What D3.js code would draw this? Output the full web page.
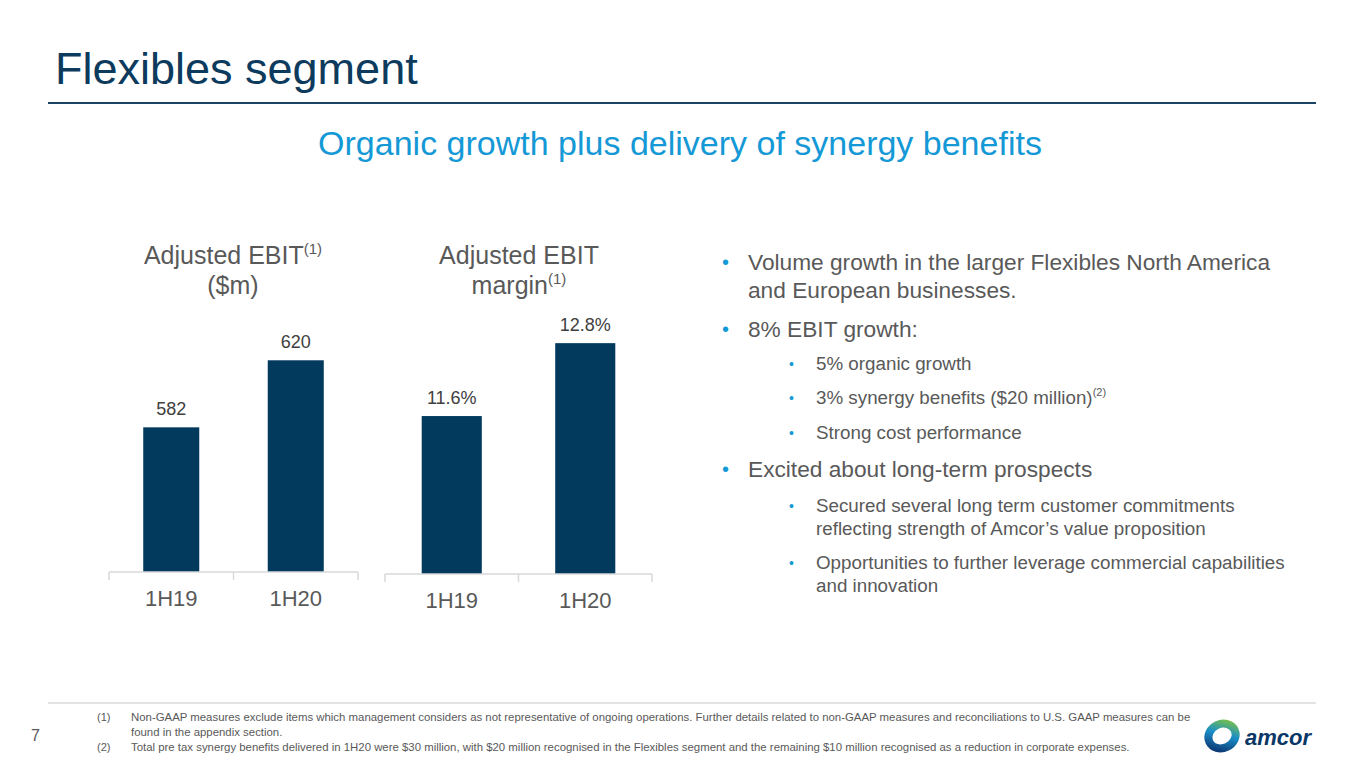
<!DOCTYPE html>
<html>
<head>
<meta charset="utf-8" />
<title>Flexibles segment</title>
<style>
html, body {
    padding: 0px;
    margin: 0px;
    width: 100%;
    height: 100%;
    background: #fff;
}
svg text {
    font-family: Arial, "Liberation Sans", sans-serif;
}
</style>
</head>
<body>
<svg id="slide" width="1365" height="768"></svg>

<script src="https://cdnjs.cloudflare.com/ajax/libs/d3/7.8.5/d3.min.js"></script>
<script>
// data
var categories = ["1H19", "1H20"]
var ebitValues = [582, 620]
var marginValues = [11.6, 12.8]

var bullets = [
    {level: 0, lines: ["Volume growth in the larger Flexibles North America", "and European businesses."]},
    {level: 0, lines: ["8% EBIT growth:"]},
    {level: 1, lines: ["5% organic growth"]},
    {level: 1, lines: ["3% synergy benefits ($20 million)"], sup: "(2)"},
    {level: 1, lines: ["Strong cost performance"]},
    {level: 0, lines: ["Excited about long-term prospects"]},
    {level: 1, lines: ["Secured several long term customer commitments", "reflecting strength of Amcor\u2019s value proposition"]},
    {level: 1, lines: ["Opportunities to further leverage commercial capabilities", "and innovation"]}
]
var bulletY = [270, 337, 370, 404, 439, 477, 512, 569]

var footnotes = [
    ["(1)", ["Non-GAAP measures exclude items which management considers as not representative of ongoing operations.  Further details related to non-GAAP measures and reconciliations to U.S. GAAP measures can be", "found in the appendix section."]],
    ["(2)", ["Total pre tax synergy benefits delivered in 1H20 were $30 million, with $20 million recognised in the Flexibles segment and the remaining $10 million recognised as a reduction in corporate expenses."]]
]

!(function(){
    "use strict"

    var navy = "#0d3b5e", bar = "#023a5e", sky = "#1599d6", grey = "#595959", dark = "#404040"
    var svg = d3.select("#slide")

    // header
    svg.append("text").attr("x", 55).attr("y", 84)
        .attr("font-size", 45).attr("fill", navy).text("Flexibles segment")
    svg.append("line").attr("x1", 48).attr("x2", 1316).attr("y1", 103).attr("y2", 103)
        .attr("stroke", "#1b4464").attr("stroke-width", 2)
    svg.append("text").attr("x", 680).attr("y", 155).attr("text-anchor", "middle")
        .attr("font-size", 34).attr("fill", sky).text("Organic growth plus delivery of synergy benefits")

    // one small bar chart
    function barChart(opt) {
        var x = d3.scaleBand().domain(categories).range(opt.xr)
            .paddingInner(opt.pad).paddingOuter(opt.pad / 2)
        var y = d3.scaleLinear().domain(opt.dom).range(opt.yr)
        var g = svg.append("g")
        var base = opt.yr[0]

        // title, one text per line
        opt.title.forEach(function(line, i) {
            var t = g.append("text").attr("text-anchor", "middle")
                .attr("font-size", 25).attr("fill", grey)
                .attr("x", opt.tx).attr("y", opt.ty[i])
            t.append("tspan").text(line[0])
            if (line[1]) {
                t.append("tspan").attr("font-size", 15).attr("dy", -10).text(line[1])
            }
        })

        g.selectAll("rect.bar").data(opt.values).enter().append("rect")
            .attr("class", "bar")
            .attr("x", function(d, i) { return x(categories[i]) })
            .attr("width", x.bandwidth())
            .attr("y", function(d) { return y(d) })
            .attr("height", function(d) { return base - y(d) })
            .attr("fill", bar)

        g.selectAll("text.val").data(opt.values).enter().append("text")
            .attr("class", "val")
            .attr("x", function(d, i) { return x(categories[i]) + x.bandwidth() / 2 })
            .attr("y", function(d) { return y(d) - 12 })
            .attr("text-anchor", "middle").attr("font-size", 18).attr("fill", dark)
            .text(opt.fmt)

        // axis: labels from d3 axis, separator ticks at band edges
        var ax = g.append("g").attr("transform", "translate(0," + base + ")")
            .call(d3.axisBottom(x).tickSize(0).tickPadding(18))
        ax.select(".domain").remove()
        ax.selectAll("text").attr("font-size", 22).attr("fill", grey)
            .style("font-family", "Arial, 'Liberation Sans', sans-serif")

        var edges = [opt.xr[0]].concat(categories.slice(1).map(function(c) {
            return x(c) - x.step() * x.paddingInner() / 2 })).concat([opt.xr[1]])
        g.append("line").attr("x1", opt.xr[0]).attr("x2", opt.xr[1])
            .attr("y1", base).attr("y2", base).attr("stroke", "#d9d9d9").attr("stroke-width", 1.5)
        g.selectAll("line.tk").data(edges).enter().append("line")
            .attr("class", "tk")
            .attr("x1", function(d) { return d }).attr("x2", function(d) { return d })
            .attr("y1", base).attr("y2", base + 8)
            .attr("stroke", "#d9d9d9").attr("stroke-width", 1.5)
    }

    barChart({
        values: ebitValues, xr: [109, 358], yr: [572, 325], dom: [500, 640], pad: 0.55,
        fmt: function(d) { return d3.format("d")(d) },
        tx: 233, ty: [264, 294], title: [["Adjusted EBIT", "(1)"], ["($m)"]]
    })
    barChart({
        values: marginValues, xr: [385, 652], yr: [574, 331], dom: [9, 13], pad: 0.55,
        fmt: function(d) { return d.toFixed(1) + "%" },
        tx: 519, ty: [264, 294], title: [["Adjusted EBIT"], ["margin", "(1)"]]
    })

    // bullets
    var bg = svg.append("g")
    bullets.forEach(function(b, i) {
        var fs = b.level ? 18.8 : 22.7
        var bx = b.level ? 789 : 722
        var tx = b.level ? 816 : 748
        var lh = b.level ? 23 : 28
        bg.append("text").attr("x", bx).attr("y", bulletY[i] - 1)
            .attr("font-size", b.level ? 14 : 20).attr("fill", sky).text("\u2022")
        b.lines.forEach(function(line, j) {
            var t = bg.append("text").attr("x", tx).attr("y", bulletY[i] + j * lh)
                .attr("font-size", fs).attr("fill", grey).text(line)
            if (b.sup && j === b.lines.length - 1) {
                t.append("tspan").attr("font-size", 11).attr("dy", -8).text(b.sup)
            }
        })
    })

    // footer
    svg.append("line").attr("x1", 48).attr("x2", 1316).attr("y1", 703).attr("y2", 703)
        .attr("stroke", "#e3e3e3").attr("stroke-width", 2)
    svg.append("text").attr("x", 31).attr("y", 741).attr("font-size", 16).attr("fill", grey).text("7")
    var fy = 721
    footnotes.forEach(function(f) {
        svg.append("text").attr("x", 97).attr("y", fy).attr("font-size", 11).attr("fill", grey).text(f[0])
        f[1].forEach(function(line) {
            svg.append("text").attr("x", 131).attr("y", fy).attr("font-size", 11.4)
                .attr("fill", grey).text(line)
            fy += 15
        })
    })

    // logo
    var defs = svg.append("defs")
    var grad = defs.append("linearGradient").attr("id", "ring")
        .attr("x1", "0%").attr("y1", "100%").attr("x2", "100%").attr("y2", "0%")
    grad.append("stop").attr("offset", "0%").attr("stop-color", "#0a2f6b")
    grad.append("stop").attr("offset", "55%").attr("stop-color", "#1b8fc8")
    grad.append("stop").attr("offset", "100%").attr("stop-color", "#7cc242")
    svg.append("ellipse").attr("cx", 1222).attr("cy", 736).attr("rx", 14).attr("ry", 12)
        .attr("transform", "rotate(-25,1222,736)")
        .attr("fill", "none").attr("stroke", "url(#ring)").attr("stroke-width", 8)
    svg.append("text").attr("x", 1245).attr("y", 745).attr("font-size", 22)
        .attr("font-style", "italic").attr("font-weight", "bold").attr("fill", "#0b3766").text("amcor")
}());
</script>
</body>
</html>
